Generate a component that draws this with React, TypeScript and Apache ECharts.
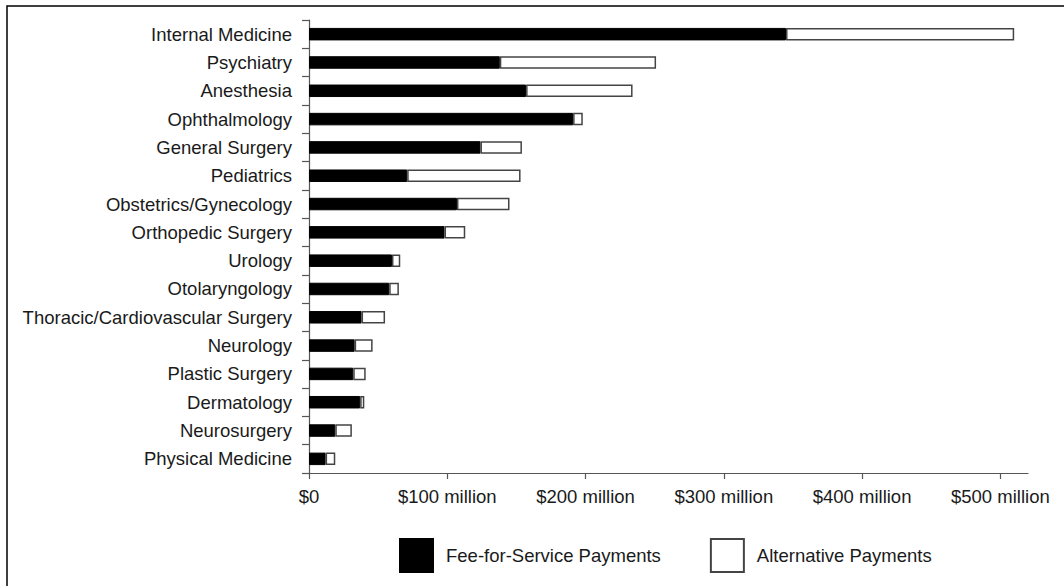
import React, { useEffect, useRef } from "react";
import * as echarts from "echarts";

const categories = [
  "Internal Medicine",
  "Psychiatry",
  "Anesthesia",
  "Ophthalmology",
  "General Surgery",
  "Pediatrics",
  "Obstetrics/Gynecology",
  "Orthopedic Surgery",
  "Urology",
  "Otolaryngology",
  "Thoracic/Cardiovascular Surgery",
  "Neurology",
  "Plastic Surgery",
  "Dermatology",
  "Neurosurgery",
  "Physical Medicine",
];

// $ millions
const feeForService = [345, 138, 157, 191, 124, 71, 107, 98, 60, 58, 38, 33, 32, 37, 19, 12];
const alternative = [165, 113, 77, 7, 30, 82, 38, 15, 6, 7, 17, 13, 9, 3, 12, 7];

const tickValues = [0, 100, 200, 300, 400, 500];

export default function App() {
  const ref = useRef<HTMLDivElement>(null);

  useEffect(() => {
    if (!ref.current) return;
    const chart = echarts.init(ref.current, null, { renderer: "svg" });
    const font = "'Liberation Sans', Arial, sans-serif";
    chart.setOption({
      animation: false,
      textStyle: { fontFamily: font },
      graphic: [
        {
          type: "rect",
          shape: { x: 7, y: 6, width: 1200, height: 800 },
          style: { fill: "none", stroke: "#000", lineWidth: 1.5 },
          silent: true,
        },
      ],
      grid: { left: 309, right: 36, top: 20, bottom: 113 },
      legend: {
        left: 399,
        top: 538,
        padding: 0,
        itemWidth: 33,
        itemHeight: 33,
        itemGap: 49,
        icon: "rect",
        textStyle: { fontSize: 18.5, color: "#1a1a1a", fontFamily: font, padding: [0, 0, 0, 8] },
        data: ["Fee-for-Service Payments", "Alternative Payments"],
      },
      xAxis: {
        type: "value",
        min: 0,
        max: 520,
        interval: 100,
        splitLine: { show: false },
        axisLine: { show: true, lineStyle: { color: "#555", width: 1.2 } },
        axisTick: { show: true, length: 6, lineStyle: { color: "#555", width: 1.2 }, customValues: tickValues },
        axisLabel: {
          fontSize: 18.5,
          color: "#1a1a1a",
          margin: 14,
          customValues: tickValues,
          formatter: (v: number) => (v === 0 ? "$0" : `$${v} million`),
        },
      },
      yAxis: {
        type: "category",
        inverse: true,
        data: categories,
        axisLine: { show: true, lineStyle: { color: "#555", width: 1.2 } },
        axisTick: { show: true, length: 7, lineStyle: { color: "#555", width: 1.2 } },
        axisLabel: { fontSize: 18.5, color: "#1a1a1a", margin: 17 },
      },
      series: [
        {
          name: "Fee-for-Service Payments",
          type: "bar",
          stack: "total",
          barWidth: 12.5,
          data: feeForService,
          itemStyle: { color: "#000", borderColor: "#000", borderWidth: 1 },
        },
        {
          name: "Alternative Payments",
          type: "bar",
          stack: "total",
          barWidth: 12.5,
          data: alternative,
          itemStyle: { color: "#fff", borderColor: "#444", borderWidth: 1.5 },
        },
      ],
    });
    return () => chart.dispose();
  }, []);

  return (
    <div
      ref={ref}
      style={{ position: "absolute", left: 0, top: 0, width: 1064, height: 586, background: "#fff" }}
    />
  );
}
